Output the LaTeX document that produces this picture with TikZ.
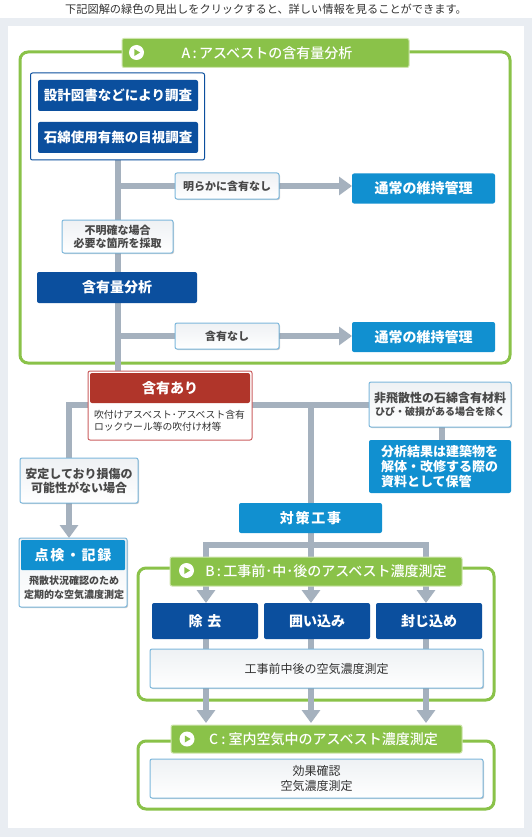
\documentclass[tikz,border=0pt]{standalone}
\usepackage{fontspec}
\setmainfont{Noto Sans CJK JP}
\newfontfamily\midfont{Noto Sans CJK JP Medium}
\usepackage{tikz}
\usetikzlibrary{arrows.meta,backgrounds,shadows}
\definecolor{pagegray}{HTML}{E9EDF2}
\definecolor{navyblue}{HTML}{0B4F9E}
\definecolor{skyblue}{HTML}{1190D0}
\definecolor{titlegreen}{HTML}{8AC249}
\definecolor{paleline}{HTML}{CFE5AE}
\definecolor{trunkgray}{HTML}{A5B1BE}
\definecolor{noteline}{HTML}{7DB8DC}
\definecolor{notetop}{HTML}{EEF1F4}
\definecolor{brickred}{HTML}{B0352A}
\definecolor{brickline}{HTML}{CB5F60}
\definecolor{darktext}{HTML}{333333}
\definecolor{softtext}{HTML}{484848}

\begin{document}
\begin{tikzpicture}[
  x=1pt,y=-1pt,
  every node/.style={inner sep=0pt,outer sep=0pt,align=center},
  navybox/.style={rectangle,rounded corners=2pt,fill=navyblue,text=white,font=\bfseries\fontsize{13.5}{16}\selectfont,minimum width=160pt,minimum height=31pt},
  skybox/.style={rectangle,rounded corners=2pt,fill=skyblue,text=white,font=\bfseries\fontsize{14}{17}\selectfont,minimum width=143pt,minimum height=30pt},
  notebox/.style={rectangle,rounded corners=2pt,draw=noteline,line width=1pt,top color=notetop,bottom color=white,text=softtext,font=\bfseries\fontsize{11}{13}\selectfont,drop shadow={shadow xshift=1pt,shadow yshift=-1pt,fill=black,opacity=0.2}},
  plainnote/.style={notebox,text=darktext,font=\fontsize{12}{14.5}\selectfont,minimum width=333pt,minimum height=39pt},
  wrapbox/.style={rectangle,rounded corners=2pt,fill=white,line width=1pt},
  titlebar/.style={rectangle,rounded corners=2pt,draw=paleline,line width=1pt,fill=titlegreen,text=white,font=\midfont\fontsize{14}{17}\selectfont,minimum height=29pt},
  framebox/.style={rectangle,rounded corners=8pt,draw=titlegreen,line width=3pt},
  trunk/.style={line width=6pt,color=trunkgray},
  trunkarrow/.style={trunk,-{Triangle[width=18pt,length=13pt]}},
  playmark/.pic={
    \fill[white] (0,0) circle (7.5);
    \fill[titlegreen] (-2.2,-3.5) -- (3.6,0) -- (-2.2,3.5) -- cycle;
  }
]
\useasboundingbox (0,0) rectangle (532,837);

\node[text=darktext,font=\fontsize{11.2}{13}\selectfont] (headnote) at (266,9) {下記図解の緑色の見出しをクリックすると、詳しい情報を見ることができます。};

% section A
\node[titlebar,minimum width=287pt] (titlea) at (265.5,53) {\hspace*{3pt}A\,:\,アスベストの含有量分析};
\pic at (136.5,52.5) {playmark};
\node[wrapbox,draw=navyblue,minimum width=174pt,minimum height=87pt] (surveybox) at (117.5,116.5) {};
\node[navybox] (drawings) at (118,95.5) {設計図書などにより調査};
\node[navybox] (visual) at (118,137.5) {石綿使用有無の目視調査};
\node[notebox,minimum width=104pt,minimum height=26pt] (clearnote) at (227,186) {明らかに含有なし};
\node[skybox] (normala) at (423.5,188.5) {通常の維持管理};
\node[notebox,minimum width=111pt,minimum height=33pt] (samplenote) at (117.5,236.5) {不明確な場合\\必要な箇所を採取};
\node[navybox,font=\bfseries\fontsize{14}{17}\selectfont] (analysis) at (117,287.5) {含有量分析};
\node[notebox,minimum width=104pt,minimum height=26pt] (nonenote) at (227,336) {含有なし};
\node[skybox] (normalb) at (423.5,337) {通常の維持管理};

% found asbestos
\node[wrapbox,draw=brickline,minimum width=164pt,minimum height=69pt] (richbox) at (170,405.5) {};
\node[rectangle,rounded corners=2pt,fill=brickred,text=white,font=\bfseries\fontsize{14}{17}\selectfont,minimum width=160pt,minimum height=30pt] (richhead) at (170,388) {含有あり};
\node[anchor=west,align=left,text=darktext,font=\fontsize{9.8}{12}\selectfont] (richtext) at (94,421) {吹付けアスベスト･アスベスト含有\\ロックウール等の吹付け材等};
\node[notebox,minimum width=142pt,minimum height=45pt,font=\bfseries\fontsize{10}{13}\selectfont] (scatternote) at (440,404.5) {{\fontsize{12}{13}\selectfont 非飛散性の石綿含有材料}\\ひび・破損がある場合を除く};
\node[skybox,minimum width=142pt,minimum height=53pt,text width=118pt,align=left,font=\bfseries\fontsize{13}{15}\selectfont] (storebox) at (440,466.5) {分析結果は建築物を\\解体・改修する際の\\資料として保管};
\node[notebox,minimum width=118pt,minimum height=45pt,font=\bfseries\fontsize{12}{14}\selectfont] (stablenote) at (79,480.5) {安定しており損傷の\\可能性がない場合};
\node[notebox,minimum width=108pt,minimum height=69pt] (checkbox) at (73,572.5) {};
\node[rectangle,rounded corners=1pt,fill=skyblue,text=white,font=\bfseries\fontsize{14}{17}\selectfont\addfontfeature{LetterSpace=12},minimum width=104pt,minimum height=30pt] (checkhead) at (73,555) {点検・記録};
\node[text=softtext,font=\bfseries\fontsize{10}{14}\selectfont] (checktext) at (74,588) {飛散状況確認のため\\定期的な空気濃度測定};
\node[skybox,font=\bfseries\fontsize{14}{17}\selectfont\addfontfeature{LetterSpace=12}] (worksbox) at (310.5,518) {対策工事};

% section B
\node[titlebar,minimum width=292pt] (titleb) at (316,571.5) {\hspace*{20pt}B\,:\,工事前･中･後のアスベスト濃度測定};
\pic at (186.5,570.5) {playmark};
\node[navybox,font=\bfseries\fontsize{14}{17}\selectfont,minimum width=106pt,minimum height=36pt] (removal) at (205,621) {除\,\,去};
\node[navybox,font=\bfseries\fontsize{14}{17}\selectfont,minimum width=106pt,minimum height=36pt] (enclosure) at (317,621) {囲い込み};
\node[navybox,font=\bfseries\fontsize{14}{17}\selectfont,minimum width=106pt,minimum height=36pt] (sealing) at (429,621) {封じ込め};
\node[plainnote] (airtest) at (316.5,668.5) {工事前中後の空気濃度測定};

% section C
\node[titlebar,minimum width=291pt,minimum height=28pt] (titlec) at (316.5,739) {\hspace*{14pt}C : 室内空気中のアスベスト濃度測定};
\pic at (187,739) {playmark};
\node[plainnote] (effecttest) at (316.5,778.5) {効果確認\\空気濃度測定};

\coordinate (leftturn) at (69,405);
\coordinate (splitl) at (206,545);
\coordinate (splitm) at (311,545);
\coordinate (splitr) at (426,545);

\begin{scope}[on background layer]
\fill[white] (0,0) rectangle (532,837);
\fill[pagegray] (0,18) rectangle (532,837);
\fill[white] (8,26) rectangle (524,828);
\node[framebox,minimum width=490pt,minimum height=311pt] (framea) at (265,207.5) {};
\node[framebox,minimum width=356pt,minimum height=132pt] (frameb) at (316,634) {};
\node[framebox,minimum width=356pt,minimum height=68pt] (framec) at (316,775) {};

\draw[trunk] (surveybox.south) -- (surveybox.south |- richbox.north);
\draw[trunk] (surveybox.south |- clearnote.west) -- (clearnote.west);
\draw[trunkarrow] (clearnote.east) -- (normala.west |- clearnote.east);
\draw[trunk] (surveybox.south |- nonenote.west) -- (nonenote.west);
\draw[trunkarrow] (nonenote.east) -- (normalb.west |- nonenote.east);

\draw[trunk] (scatternote.west |- leftturn) -- (leftturn) -- (leftturn |- stablenote.north);
\draw[trunkarrow] (leftturn |- stablenote.south) -- (leftturn |- checkbox.north);
\draw[trunk] (splitm |- leftturn) -- (worksbox.north -| splitm);
\draw[trunk] ([xshift=2pt]scatternote.south) -- ([xshift=2pt]storebox.north);

\draw[trunk] (worksbox.south -| splitm) -- (splitm);
\draw[trunk,line cap=rect] (splitl) -- (splitr);
\draw[trunkarrow] (splitl) -- (splitl |- removal.north);
\draw[trunkarrow] (splitm) -- (splitm |- enclosure.north);
\draw[trunkarrow] (splitr) -- (splitr |- sealing.north);

\draw[trunk] (splitl |- removal.south) -- (splitl |- airtest.north);
\draw[trunk] (splitm |- enclosure.south) -- (splitm |- airtest.north);
\draw[trunk] (splitr |- sealing.south) -- (splitr |- airtest.north);
\draw[trunkarrow,shorten >=2pt] (splitl |- airtest.south) -- (splitl |- titlec.north);
\draw[trunkarrow,shorten >=2pt] (splitm |- airtest.south) -- (splitm |- titlec.north);
\draw[trunkarrow,shorten >=2pt] (splitr |- airtest.south) -- (splitr |- titlec.north);
\end{scope}
\end{tikzpicture}
\end{document}
